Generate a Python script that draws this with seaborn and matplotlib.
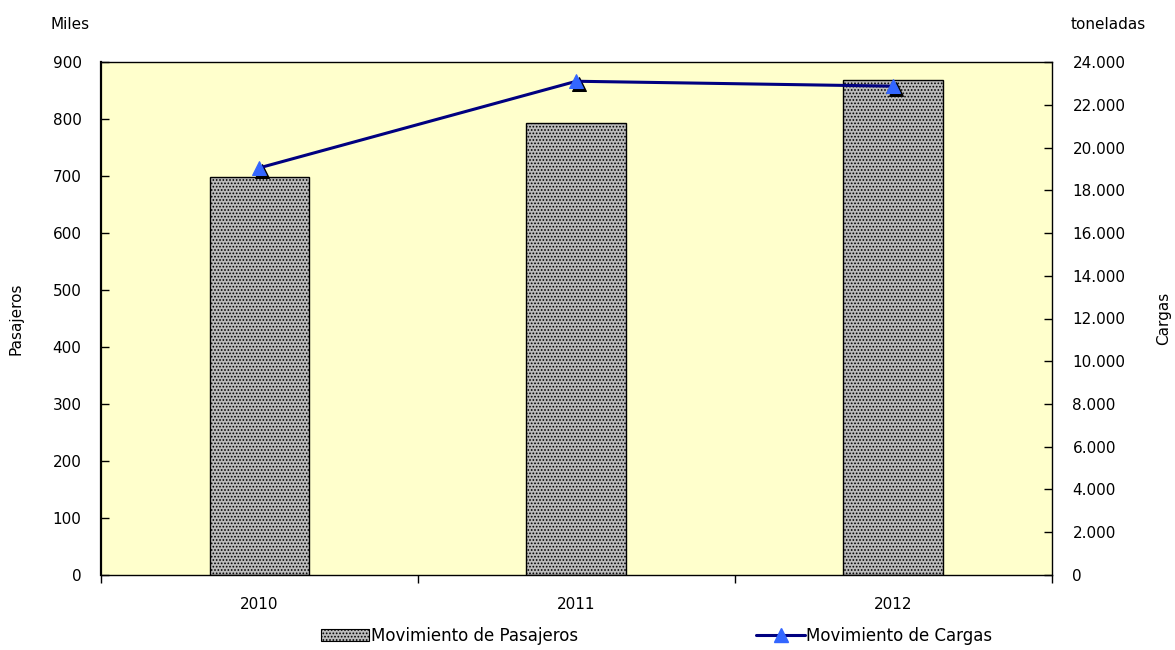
import matplotlib
matplotlib.use('Agg')
import matplotlib.pyplot as plt
import matplotlib.ticker as mticker
import matplotlib.transforms as mtransforms
from matplotlib.lines import Line2D
from matplotlib.patches import Patch
import seaborn as sns
import pandas as pd

# datos
anios = ['2010', '2011', '2012']
pasajeros = [699, 793, 868]          # miles
cargas = [19050, 23100, 22870]       # toneladas

df = pd.DataFrame({'Año': anios, 'Pasajeros': pasajeros, 'Cargas': cargas})

sns.set_style('white')
plt.rcParams['font.family'] = ['DejaVu Sans']
plt.rcParams['text.color'] = 'black'
plt.rcParams['axes.labelcolor'] = 'black'
plt.rcParams['xtick.color'] = 'black'
plt.rcParams['ytick.color'] = 'black'
plt.rcParams['hatch.color'] = '#555555'
plt.rcParams['hatch.linewidth'] = 0.8

fig = plt.figure(figsize=(11.75, 6.5), dpi=100)
ax = fig.add_axes([0.086, 0.1154, 0.809, 0.7892])
ax.set_facecolor('#FFFFCC')

# barras - pasajeros
sns.barplot(data=df, x='Año', y='Pasajeros', ax=ax, color='#bcbcbc',
            width=0.315, edgecolor='black', linewidth=1.0, saturation=1)
for p in ax.patches:
    p.set_hatch('.....')

ax.set_xlim(-0.5, 2.5)
ax.set_ylim(0, 900)
ax.yaxis.set_major_locator(mticker.MultipleLocator(100))
ax.set_xlabel('')
ax.set_ylabel('Pasajeros', fontsize=11, labelpad=21)
ax.tick_params(axis='y', left=True, direction='in', length=6, width=1,
               labelsize=11, pad=14)
ax.tick_params(axis='x', which='major', length=0, labelsize=11, pad=16)
ax.set_xticks([-0.5, 0.5, 1.5, 2.5], minor=True)
ax.tick_params(axis='x', which='minor', bottom=True, length=6, width=1)
for s in ax.spines.values():
    s.set_color('black')
    s.set_linewidth(1.0)
ax.spines['left'].set_linewidth(1.6)

# linea - cargas
ax2 = ax.twinx()
sombra = mtransforms.offset_copy(ax2.transData, fig=fig, x=3, y=-3, units='dots')
sns.lineplot(data=df, x='Año', y='Cargas', ax=ax2, color='black', linestyle='',
             marker='^', markersize=10, markeredgecolor='black',
             transform=sombra, zorder=4)
sns.lineplot(data=df, x='Año', y='Cargas', ax=ax2, color='#000080', linewidth=2.2,
             marker='^', markersize=10, markerfacecolor='#3366FF',
             markeredgecolor='#3366FF', zorder=5)
ax2.set_ylim(0, 24000)
ax2.yaxis.set_major_locator(mticker.MultipleLocator(2000))
ax2.yaxis.set_major_formatter(mticker.FuncFormatter(
    lambda v, pos: f'{int(v):,}'.replace(',', '.')))
ax2.set_ylabel('Cargas', fontsize=11, labelpad=22)
ax2.tick_params(axis='y', right=True, direction='in', length=6, width=1,
                labelsize=11, pad=15)
ax2.set_xlim(-0.5, 2.5)
ax2.set_xlabel('')
for s in ax2.spines.values():
    s.set_visible(False)

fig.text(0.043, 0.962, 'Miles', fontsize=11, ha='left', va='center')
fig.text(0.975, 0.962, 'toneladas', fontsize=11, ha='right', va='center')

handles = [
    Patch(facecolor='#bcbcbc', edgecolor='black', hatch='.....', linewidth=0.8),
    Line2D([], [], color='#000080', linewidth=2.2, marker='^', markersize=10,
           markerfacecolor='#3366FF', markeredgecolor='#3366FF'),
]
fig.legend(handles, ['Movimiento de Pasajeros', 'Movimiento de Cargas'],
           loc='center', bbox_to_anchor=(0.559, 0.022), ncol=2, frameon=False,
           fontsize=12, handlelength=2.9, handletextpad=0.1, columnspacing=10.7)

fig.savefig('out.png', dpi=100)
